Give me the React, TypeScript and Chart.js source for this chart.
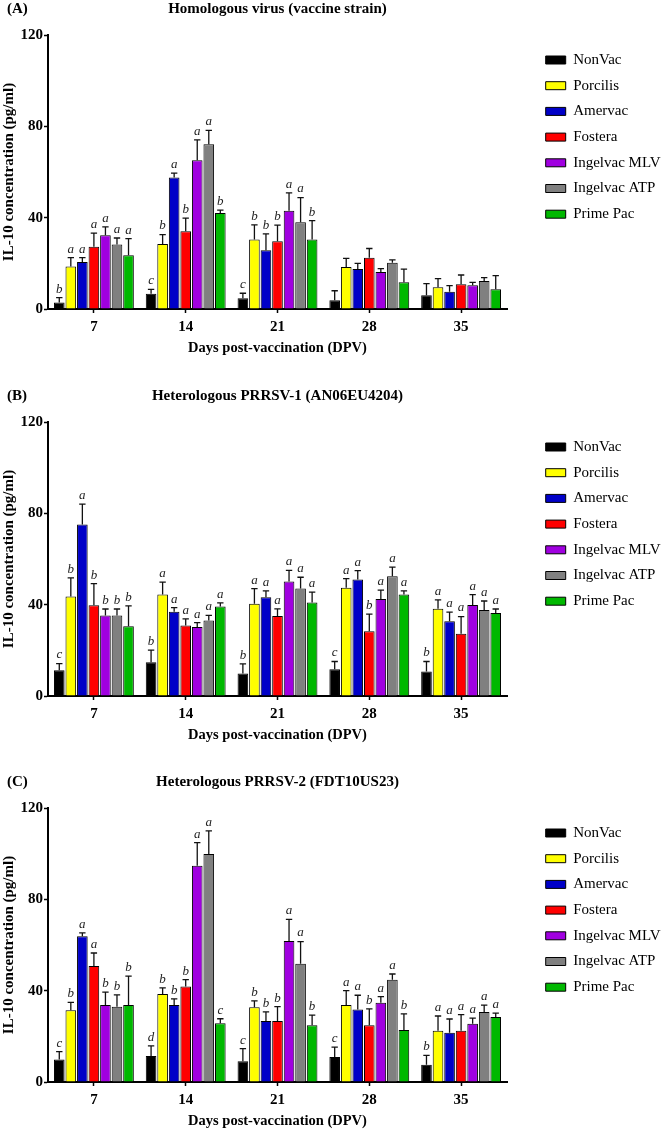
import { useEffect, useRef } from "react"
import { Chart, registerables, type Plugin } from "chart.js"

Chart.register(...registerables)

const days = ["7", "14", "21", "28", "35"]
const groups = ["NonVac", "Porcilis", "Amervac", "Fostera", "Ingelvac MLV", "Ingelvac ATP", "Prime Pac"]
const groupColors = ["#000000", "#FFFF00", "#0000C8", "#FF0000", "#A000E0", "#808080", "#00B800"]
const yTicks = [0, 40, 80, 120]

// (A) homologous virus, one row per group, one value per day
const homologousMeans = [
  [2.8, 6.7, 4.7, 3.8, 6.0],
  [18.6, 28.5, 30.4, 18.4, 9.5],
  [20.6, 57.6, 25.7, 17.5, 7.6],
  [27.3, 34.1, 29.7, 22.4, 10.8],
  [32.3, 65.2, 43.0, 16.2, 10.4],
  [28.2, 72.2, 38.0, 20.3, 12.3],
  [23.5, 42.0, 30.4, 11.7, 8.6],
]
const homologousErrors = [
  [2.2, 1.9, 2.2, 4.2, 5.1],
  [3.9, 4.1, 6.4, 3.8, 3.8],
  [1.9, 1.9, 7.2, 2.5, 2.6],
  [5.9, 5.7, 7.0, 4.1, 4.1],
  [3.7, 8.9, 7.9, 1.5, 1.3],
  [2.9, 6.0, 10.8, 1.2, 1.4],
  [7.3, 1.3, 8.3, 5.8, 6.0],
]
const homologousLetters = [
  ["b", "c", "c", "", ""],
  ["a", "b", "b", "", ""],
  ["a", "a", "b", "", ""],
  ["a", "b", "b", "", ""],
  ["a", "a", "a", "", ""],
  ["a", "a", "a", "", ""],
  ["a", "b", "b", "", ""],
]

// (B) PRRSV-1
const prrsv1Means = [
  [11.3, 14.8, 9.8, 11.7, 10.7],
  [43.6, 44.5, 40.4, 47.4, 38.2],
  [75.1, 36.9, 43.2, 51.0, 32.7],
  [39.7, 30.9, 35.0, 28.4, 27.3],
  [35.3, 30.2, 50.1, 42.5, 39.9],
  [35.3, 33.1, 47.1, 52.4, 37.7],
  [30.6, 39.2, 41.0, 44.4, 36.4],
]
const prrsv1Errors = [
  [2.9, 5.3, 4.3, 3.4, 4.4],
  [8.1, 5.4, 6.6, 4.0, 3.9],
  [8.9, 1.8, 2.8, 3.9, 4.0],
  [9.5, 2.9, 3.2, 7.5, 7.5],
  [2.8, 1.9, 4.9, 3.9, 4.5],
  [2.8, 2.2, 4.9, 4.0, 3.9],
  [8.9, 1.6, 4.5, 1.6, 1.7],
]
const prrsv1Letters = [
  ["c", "b", "b", "c", "b"],
  ["b", "a", "a", "a", "a"],
  ["a", "a", "a", "a", "a"],
  ["b", "a", "a", "b", "a"],
  ["b", "a", "a", "a", "a"],
  ["b", "a", "a", "a", "a"],
  ["b", "a", "a", "a", "a"],
]

// (C) PRRSV-2
const prrsv2Means = [
  [9.8, 11.4, 9.1, 10.9, 7.6],
  [31.4, 38.5, 32.7, 33.7, 22.5],
  [63.8, 33.7, 26.7, 31.8, 21.6],
  [50.8, 41.8, 26.7, 24.8, 22.5],
  [33.7, 94.7, 61.8, 34.7, 25.5],
  [33.0, 99.9, 51.8, 44.8, 30.7],
  [33.7, 25.7, 24.8, 22.8, 28.5],
]
const prrsv2Errors = [
  [3.5, 4.4, 5.5, 4.4, 4.1],
  [3.5, 2.7, 2.8, 6.3, 6.4],
  [1.5, 2.7, 4.0, 6.2, 6.0],
  [5.7, 3.0, 6.3, 7.2, 7.0],
  [5.7, 10.1, 9.4, 2.7, 2.5],
  [5.2, 10.1, 9.7, 2.5, 3.0],
  [12.7, 2.0, 4.5, 7.0, 1.7],
]
const prrsv2Letters = [
  ["c", "d", "c", "c", "b"],
  ["b", "b", "b", "a", "a"],
  ["a", "b", "b", "a", "a"],
  ["a", "b", "b", "b", "a"],
  ["b", "a", "a", "a", "a"],
  ["b", "a", "a", "a", "a"],
  ["b", "c", "b", "b", "a"],
]

const panels = [
  { tag: "(A)", title: "Homologous virus (vaccine strain)", means: homologousMeans, errors: homologousErrors, letters: homologousLetters, top: 0 },
  { tag: "(B)", title: "Heterologous PRRSV-1 (AN06EU4204)", means: prrsv1Means, errors: prrsv1Errors, letters: prrsv1Letters, top: 387 },
  { tag: "(C)", title: "Heterologous PRRSV-2 (FDT10US23)", means: prrsv2Means, errors: prrsv2Errors, letters: prrsv2Letters, top: 773 },
]

const serif = "'Liberation Serif', 'Times New Roman', serif"

const errorBars: Plugin<"bar"> = {
  id: "errorBars",
  afterDatasetsDraw(chart) {
    const { ctx } = chart
    const y = chart.scales.y
    chart.data.datasets.forEach((ds: any, i) => {
      chart.getDatasetMeta(i).data.forEach((bar: any, j) => {
        const end = y.getPixelForValue(ds.data[j] + ds.errors[j])
        const half = bar.width * 0.3
        ctx.save()
        ctx.strokeStyle = "#111"
        ctx.lineWidth = 1.3
        ctx.beginPath()
        ctx.moveTo(bar.x, bar.y)
        ctx.lineTo(bar.x, end)
        ctx.moveTo(bar.x - half, end)
        ctx.lineTo(bar.x + half, end)
        ctx.stroke()
        if (ds.letters[j]) {
          ctx.font = `italic 13px ${serif}`
          ctx.fillStyle = "#222"
          ctx.textAlign = "center"
          ctx.textBaseline = "bottom"
          ctx.fillText(ds.letters[j], bar.x, end - 2)
        }
        ctx.restore()
      })
    })
  },
}

const panelTag: Plugin<"bar"> = {
  id: "panelTag",
  afterDraw(chart, _args, opts: any) {
    const { ctx } = chart
    ctx.save()
    ctx.font = `bold 15px ${serif}`
    ctx.fillStyle = "#000"
    ctx.textAlign = "left"
    ctx.textBaseline = "middle"
    ctx.fillText(opts.text, 7, 9)
    ctx.restore()
  },
}

function Panel({ tag, title, means, errors, letters, top }: (typeof panels)[number]) {
  const canvasRef = useRef<HTMLCanvasElement>(null)

  useEffect(() => {
    if (!canvasRef.current) return

    const chart = new Chart(canvasRef.current, {
      type: "bar",
      data: {
        labels: days,
        datasets: groups.map((name, i) => ({
          label: name,
          data: means[i],
          errors: errors[i],
          letters: letters[i],
          backgroundColor: groupColors[i],
          borderColor: "#000",
          borderWidth: 1,
          barPercentage: 0.92,
          categoryPercentage: 0.88,
        })) as any,
      },
      options: {
        animation: false,
        responsive: true,
        maintainAspectRatio: false,
        events: [],
        scales: {
          x: {
            grid: { display: true, drawOnChartArea: false, offset: false, tickLength: 4, tickColor: "#000", tickWidth: 1.5 },
            border: { color: "#000", width: 2 },
            ticks: { color: "#000", padding: 5, font: { family: serif, size: 15, weight: "bold" } },
            title: { display: true, text: "Days post-vaccination (DPV)", color: "#000", padding: 0, font: { family: serif, size: 14.5, weight: "bold" } },
            afterFit: (s) => {
              s.height = 48
            },
          },
          y: {
            min: 0,
            max: 120,
            afterBuildTicks: (s) => {
              s.ticks = yTicks.map((value) => ({ value }))
            },
            grid: { display: true, drawOnChartArea: false, tickLength: 4, tickColor: "#000", tickWidth: 1.5 },
            border: { color: "#000", width: 2 },
            ticks: { color: "#000", padding: 1, font: { family: serif, size: 15, weight: "bold" } },
            title: { display: true, text: "IL-10 concentration (pg/ml)", color: "#000", padding: 0, font: { family: serif, size: 15, weight: "bold" } },
            afterFit: (s) => {
              s.width = 48
            },
          },
          // empty strip between the plot and the legend
          gap: {
            type: "linear",
            position: "right",
            display: true,
            grid: { display: false },
            ticks: { display: false },
            border: { display: false },
            afterFit: (s) => {
              s.width = 28
            },
          },
        },
        plugins: {
          tooltip: { enabled: false },
          title: {
            display: true,
            text: title,
            fullSize: false,
            color: "#000",
            padding: { top: 0, bottom: 17 },
            font: { family: serif, size: 15, weight: "bold" },
          },
          legend: {
            position: "right",
            align: "start",
            fullSize: false,
            maxWidth: 130,
            title: { display: true, text: "", padding: { top: 5.6, bottom: 0 }, font: { size: 1 } },
            labels: {
              boxWidth: 20,
              boxHeight: 8,
              padding: 10.7,
              color: "#000",
              font: { family: serif, size: 15 },
            },
          },
          panelTag: { text: tag },
        } as any,
      },
      plugins: [errorBars, panelTag],
    })

    return () => chart.destroy()
  }, [tag, title, means, errors, letters])

  return (
    <div style={{ position: "absolute", left: 0, top, width: 665, height: 357 }}>
      <canvas ref={canvasRef} />
    </div>
  )
}

export default function App() {
  return (
    <div style={{ position: "absolute", left: 0, top: 0, width: 665, height: 1130, background: "#fff" }}>
      {panels.map((p) => (
        <Panel key={p.tag} {...p} />
      ))}
    </div>
  )
}
